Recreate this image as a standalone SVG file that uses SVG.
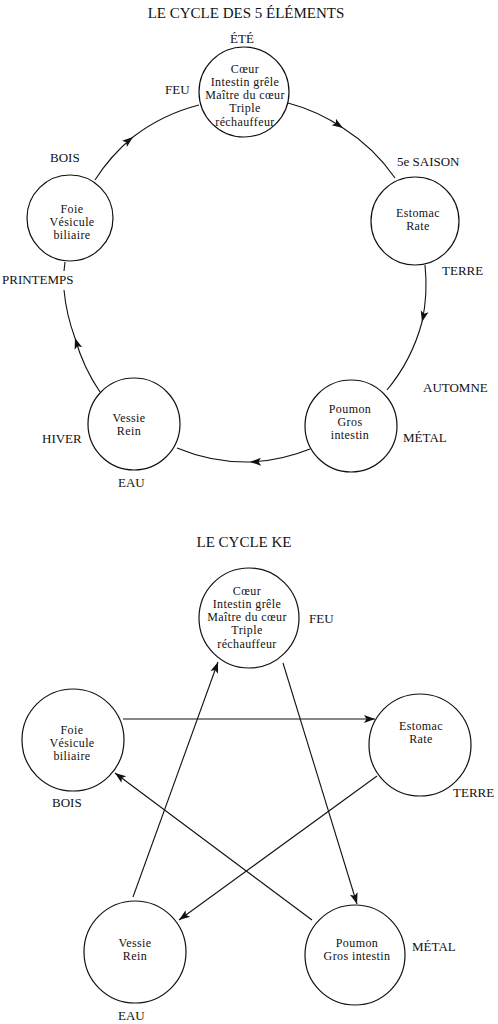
<svg xmlns="http://www.w3.org/2000/svg" width="498" height="1024" viewBox="0 0 498 1024">
<style>
text{font-family:"Liberation Serif","Times New Roman",serif;fill:#111}
.title{font-size:15px;text-anchor:middle}
.lbl{font-size:13px}
.nt{font-size:12px;letter-spacing:0.4px;text-anchor:middle}
.node circle{fill:#fff;stroke:#111;stroke-width:1.2}
.conn path,.conn line{fill:none;stroke:#111;stroke-width:1.1}
</style>
<defs>
<marker id="ah" markerUnits="userSpaceOnUse" markerWidth="12" markerHeight="10" refX="11" refY="4" orient="auto" viewBox="0 0 12 8">
<path d="M0,0 L11,4 L0,8 L2.5,4 Z" fill="#111"/>
</marker>
</defs>
<rect width="498" height="1024" fill="#fff"/>

<text class="title" x="246" y="18">LE CYCLE DES 5 ÉLÉMENTS</text>

<g class="conn" id="connectors-top">
<path d="M95,180 A182,182 0 0 1 133,137 A182,182 0 0 1 199,105" marker-mid="url(#ah)"/>
<path d="M288,103 A181,181 0 0 1 343,128 A181,181 0 0 1 395,178" marker-mid="url(#ah)"/>
<path d="M425,265 A178,178 0 0 1 422,322 A178,178 0 0 1 387,390" marker-mid="url(#ah)"/>
<path d="M310,449 A181,181 0 0 1 250,462 A181,181 0 0 1 177,448" marker-mid="url(#ah)"/>
<path d="M100,392 A184,184 0 0 1 75,338 A184,184 0 0 1 64,290" marker-mid="url(#ah)"/>
<path d="M64,271 L65,262"/>
</g>

<g class="node" id="n-coeur-1">
<circle cx="244" cy="92" r="45"/>
<text class="nt" x="245" y="72.5">Cœur</text>
<text class="nt" x="245" y="85.8">Intestin grêle</text>
<text class="nt" x="245" y="99.1">Maître du cœur</text>
<text class="nt" x="245" y="112.4">Triple</text>
<text class="nt" x="245" y="125.7">réchauffeur</text>
</g>
<g class="node" id="n-foie-1">
<circle cx="70" cy="218" r="43"/>
<text class="nt" x="72" y="212.5">Foie</text>
<text class="nt" x="72" y="225.8">Vésicule</text>
<text class="nt" x="72" y="239.1">biliaire</text>
</g>
<g class="node" id="n-estomac-1">
<circle cx="415" cy="221" r="44"/>
<text class="nt" x="418" y="217">Estomac</text>
<text class="nt" x="418" y="230.3">Rate</text>
</g>
<g class="node" id="n-poumon-1">
<circle cx="351" cy="426" r="46"/>
<text class="nt" x="350" y="412.5">Poumon</text>
<text class="nt" x="350" y="425.8">Gros</text>
<text class="nt" x="350" y="439.1">intestin</text>
</g>
<g class="node" id="n-vessie-1">
<circle cx="134" cy="424" r="46"/>
<text class="nt" x="129" y="422">Vessie</text>
<text class="nt" x="129" y="435.3">Rein</text>
</g>

<g id="labels-top">
<text class="lbl" x="230" y="43">ÉTÉ</text>
<text class="lbl" x="165" y="94">FEU</text>
<text class="lbl" x="50" y="162">BOIS</text>
<text class="lbl" x="2" y="284">PRINTEMPS</text>
<text class="lbl" x="397" y="166">5e SAISON</text>
<text class="lbl" x="442" y="275">TERRE</text>
<text class="lbl" x="423" y="392">AUTOMNE</text>
<text class="lbl" x="403" y="442">MÉTAL</text>
<text class="lbl" x="42" y="443">HIVER</text>
<text class="lbl" x="118" y="487">EAU</text>
</g>

<text class="title" x="244" y="547">LE CYCLE KE</text>

<g class="conn" id="connectors-ke">
<line x1="123" y1="719" x2="375" y2="719" marker-end="url(#ah)"/>
<line x1="133" y1="897" x2="218" y2="662" marker-end="url(#ah)"/>
<line x1="283" y1="663" x2="357" y2="904" marker-end="url(#ah)"/>
<line x1="377" y1="776" x2="179" y2="920" marker-end="url(#ah)"/>
<line x1="312" y1="920" x2="115" y2="773" marker-end="url(#ah)"/>
</g>

<g class="node" id="n-coeur-2">
<circle cx="249" cy="618" r="50"/>
<text class="nt" x="247" y="594.5">Cœur</text>
<text class="nt" x="247" y="607.8">Intestin grêle</text>
<text class="nt" x="247" y="621.1">Maître du cœur</text>
<text class="nt" x="247" y="634.4">Triple</text>
<text class="nt" x="247" y="647.7">réchauffeur</text>
</g>
<g class="node" id="n-foie-2">
<circle cx="73" cy="740" r="51"/>
<text class="nt" x="72" y="733.5">Foie</text>
<text class="nt" x="72" y="746.8">Vésicule</text>
<text class="nt" x="72" y="760.1">biliaire</text>
</g>
<g class="node" id="n-estomac-2">
<circle cx="420" cy="745" r="51"/>
<text class="nt" x="421" y="730">Estomac</text>
<text class="nt" x="421" y="743.3">Rate</text>
</g>
<g class="node" id="n-vessie-2">
<circle cx="135" cy="952" r="51"/>
<text class="nt" x="135" y="946.5">Vessie</text>
<text class="nt" x="135" y="959.8">Rein</text>
</g>
<g class="node" id="n-poumon-2">
<circle cx="355" cy="955" r="50"/>
<text class="nt" x="357" y="946.5">Poumon</text>
<text class="nt" x="357" y="959.8">Gros intestin</text>
</g>

<g id="labels-ke">
<text class="lbl" x="309" y="623">FEU</text>
<text class="lbl" x="52" y="807">BOIS</text>
<text class="lbl" x="453" y="797">TERRE</text>
<text class="lbl" x="412" y="951">MÉTAL</text>
<text class="lbl" x="118" y="1020">EAU</text>
</g>
</svg>
